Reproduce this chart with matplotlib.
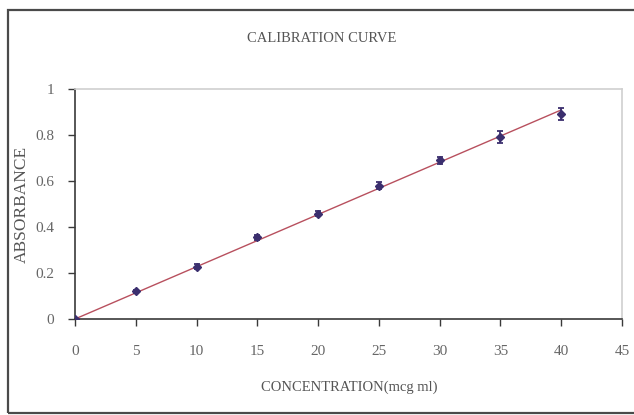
import numpy as np
import matplotlib.pyplot as plt
from matplotlib.patches import Rectangle

# concentration (mcg/ml) vs absorbance with standard deviation
conc = [0, 5, 10, 15, 20, 25, 30, 35, 40]
absorbance = [0.0, 0.120, 0.228, 0.355, 0.458, 0.580, 0.690, 0.790, 0.892]
sd = [0.004, 0.008, 0.010, 0.010, 0.012, 0.014, 0.016, 0.026, 0.026]

x_ticks = [0, 5, 10, 15, 20, 25, 30, 35, 40, 45]
y_ticks = [0, 0.2, 0.4, 0.6, 0.8, 1]
y_ticklabels = ['0', '0.2', '0.4', '0.6', '0.8', '1']

plt.rcParams['font.family'] = ['Liberation Serif', 'DejaVu Serif']

fig = plt.figure(figsize=(6.34, 4.15), dpi=100)
fig.patch.set_facecolor('white')

# chart area frame
fig.patches.append(Rectangle((8 / 634, 2 / 415), 1.0, 403 / 415,
                             transform=fig.transFigure, fill=False,
                             edgecolor='#4a4a4a', linewidth=1.6))

ax = fig.add_axes([75 / 634, 96 / 415, 547 / 634, 230 / 415])

# least squares trendline through the origin
c = np.array(conc, dtype=float)
a = np.array(absorbance)
slope = (c * a).sum() / (c * c).sum()
ax.plot([c[0], c[-1]], [slope * c[0], slope * c[-1]], color='#b8505e',
        linewidth=1.0, zorder=2)

ax.errorbar(conc, absorbance, yerr=sd, fmt='D', color='#3b2f6e',
            markersize=3.8, elinewidth=1.3, capsize=2.5, capthick=1.3,
            zorder=3)

ax.set_xlim(0, 45)
ax.set_ylim(0, 1)
ax.set_xticks(x_ticks)
ax.set_yticks(y_ticks)
ax.set_yticklabels(y_ticklabels)

for side in ['top', 'right']:
    ax.spines[side].set_color('#cfcfcf')
    ax.spines[side].set_linewidth(1.2)
for side in ['left', 'bottom']:
    ax.spines[side].set_color('#3a3a3a')
    ax.spines[side].set_linewidth(1.2)

ax.tick_params(axis='both', direction='out', length=5, width=1.0,
               color='#3a3a3a', labelcolor='#666666', labelsize=11)
ax.tick_params(axis='x', pad=14)
ax.tick_params(axis='y', pad=10)

ax.set_xlabel('CONCENTRATION(mcg ml)', fontsize=10.5, color='#555555')
ax.xaxis.set_label_coords(274 / 547, -62 / 230)
ax.set_ylabel('ABSORBANCE', fontsize=12.5, color='#555555')
ax.yaxis.set_label_coords(-45 / 547, 0.5)
fig.text(322 / 634, 1 - 39 / 415, 'CALIBRATION CURVE', fontsize=10.5,
         color='#555555', ha='center', va='center')

fig.savefig('out.png', dpi=100, facecolor='white')
